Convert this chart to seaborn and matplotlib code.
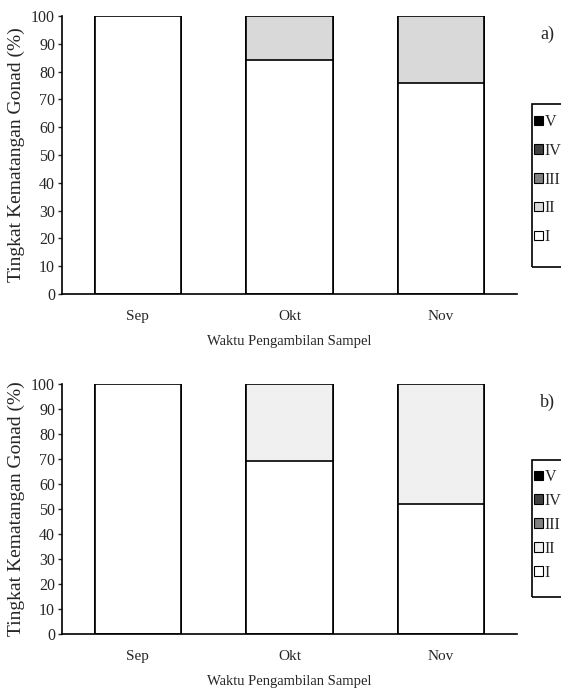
import numpy as np
import matplotlib
matplotlib.use("Agg")
import matplotlib.pyplot as plt
from matplotlib.patches import Patch, Rectangle
import seaborn as sns

sns.set_style("white")
plt.rcParams['font.family'] = ['Liberation Serif', 'DejaVu Serif']

# data
months = ["Sep", "Okt", "Nov"]
stages = ["I", "II", "III", "IV", "V"]
# panel a
a_I = [100, 84, 76]
a_II = [0, 16, 24]
a_III = [0, 0, 0]
a_IV = [0, 0, 0]
a_V = [0, 0, 0]
# panel b
b_I = [100, 69, 52]
b_II = [0, 31, 48]
b_III = [0, 0, 0]
b_IV = [0, 0, 0]
b_V = [0, 0, 0]

colors_a = ["#ffffff", "#d9d9d9", "#808080", "#404040", "#000000"]
colors_b = ["#ffffff", "#f0f0f0", "#808080", "#404040", "#000000"]

fig = plt.figure(figsize=(5.61, 6.94), dpi=100)
ax_a = fig.add_axes([0.1105, 0.5764, 0.811, 0.4006])
ax_b = fig.add_axes([0.1105, 0.0865, 0.811, 0.3602])


def draw(ax, series, colors, tag, leg_top, spacing, box):
    cum = np.cumsum(np.array(series), axis=0)
    # draw largest cumulative first so lower stages sit on top
    for i in range(len(series) - 1, -1, -1):
        sns.barplot(x=months, y=cum[i], color=colors[i], edgecolor="black",
                    linewidth=1.2, width=0.57, saturation=1, ax=ax)
    ax.set_ylim(0, 100)
    ax.set_xlim(-0.5, 2.5)
    ax.set_yticks(range(0, 101, 10))
    ax.tick_params(axis="y", left=True, length=3, width=1, labelsize=11.5, pad=2)
    ax.tick_params(axis="x", bottom=False, labelsize=11, pad=8)
    for s in ["top", "right"]:
        ax.spines[s].set_visible(False)
    for s in ["left", "bottom"]:
        ax.spines[s].set_color("black")
        ax.spines[s].set_linewidth(1.2)
    ax.set_ylabel("Tingkat Kematangan Gonad (%)", fontsize=14, labelpad=4)
    ax.set_xlabel("Waktu Pengambilan Sampel", fontsize=10.5, labelpad=9)
    pos = ax.get_position()
    fig.text(0.963, pos.y1 - 0.027, tag, fontsize=13, ha="left", va="center")
    handles = [Patch(facecolor=colors[i], edgecolor="black", linewidth=0.8, label=stages[i])
               for i in range(len(stages) - 1, -1, -1)]
    fig.legend(handles=handles, loc="upper left", bbox_to_anchor=(0.942, leg_top),
               frameon=False, fontsize=11.5,
               handlelength=0.55, handleheight=0.55, handletextpad=0.1,
               labelspacing=spacing, borderpad=0.35, borderaxespad=0)
    # legend frame, runs off the right edge like the original
    fig.add_artist(Rectangle((0.9483, box[0]), 0.1, box[1], transform=fig.transFigure,
                             fill=False, edgecolor="black", linewidth=1.2))


draw(ax_a, [a_I, a_II, a_III, a_IV, a_V], colors_a, "a)", 0.8438, 0.8, (0.6153, 0.2349))
draw(ax_b, [b_I, b_II, b_III, b_IV, b_V], colors_b, "b)", 0.3323, 0.5, (0.1398, 0.1974))

fig.savefig("out.png", dpi=100)
